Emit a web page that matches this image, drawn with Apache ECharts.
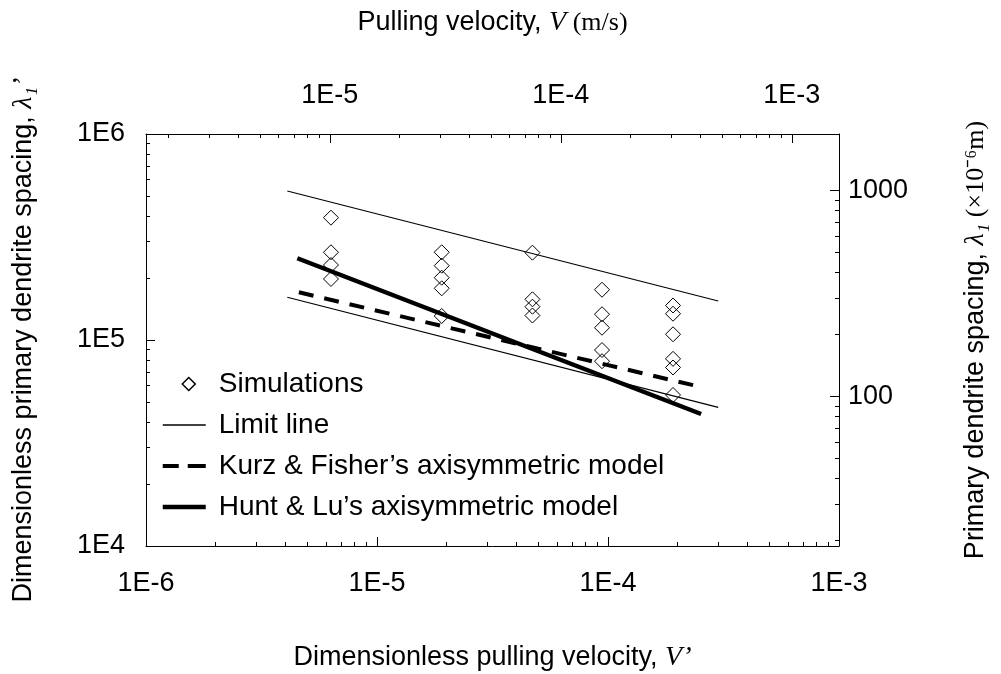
<!DOCTYPE html>
<html>
<head>
<meta charset="utf-8">
<script src="https://cdn.jsdelivr.net/npm/echarts@6/dist/echarts.min.js"></script>
<style>
  html, body { margin: 0; padding: 0; background: #fff; }
  #chart { width: 1001px; height: 674px; }
</style>
</head>
<body>
<div id="chart"></div>
<script>
// Simulated primary dendrite spacing versus dimensionless pulling velocity.
// Each simulation column shares one velocity.
const simVelocity = [6.32e-6, 1.906e-5, 4.71e-5, 9.42e-5, 1.912e-4];
const simSpacing = [
  [392500, 266600, 231300, 197800],
  [266600, 229500, 200700, 178200, 130800],
  [265400, 157600, 145100, 131500],
  [175400, 133400, 114700, 89400, 78900],
  [147100, 134100, 106600, 81000, 73550, 54100]
];

// Upper and lower limit lines
const limitVelocity = [4.09e-6, 3.0e-4];
const limitUpper = [528900, 154600];
const limitLower = [161200, 47130];

// Kurz & Fisher model
const kurzVelocity = [4.59e-6, 2.42e-4];
const kurzSpacing = [170400, 59800];

// Hunt & Lu model
const huntVelocity = [4.52e-6, 2.53e-4];
const huntSpacing = [249300, 43740];

// Dimensional axes: V = V' * velocityFactor (m/s), lambda1 = lambda1' * spacingFactor (um)
const velocityFactor = 1.6;
const spacingFactor = 1.884e-3;

// Axis ranges
const xRange = [1e-6, 1e-3];
const yRange = [1e4, 1e6];

const sans = 'Liberation Sans, Arial, Helvetica, sans-serif';
const serif = 'Liberation Serif, Times New Roman, serif';

function pair(xs, ys) { return xs.map((x, i) => [x, ys[i]]); }

function majorTicks(lo, hi) {
  const out = [];
  for (let d = Math.floor(Math.log10(lo)); d <= Math.ceil(Math.log10(hi)); d++) {
    const v = Math.pow(10, d);
    if (v >= lo * 0.999999 && v <= hi * 1.000001) out.push(Number(v.toPrecision(6)));
  }
  return out;
}
function minorTicks(lo, hi) {
  const out = [];
  for (let d = Math.floor(Math.log10(lo)); d <= Math.ceil(Math.log10(hi)); d++) {
    for (let m = 2; m <= 9; m++) {
      const v = Number((m * Math.pow(10, d)).toPrecision(6));
      if (v > lo && v < hi) out.push(v);
    }
  }
  return out;
}
const expLabel = v => '1E' + Math.round(Math.log10(v));
const plainLabel = v => String(Math.round(v));

const tickText = { fontFamily: sans, fontSize: 27, color: '#000' };
const blackLine = { color: '#000', width: 1 };

function mainAxis(opts) {
  return Object.assign({
    type: 'log', logBase: 10,
    axisLine: { show: true, onZero: false, lineStyle: blackLine },
    axisTick: { show: true, inside: true, length: 9, lineStyle: blackLine, customValues: opts.majors },
    axisLabel: Object.assign({ customValues: opts.majors, formatter: opts.fmt, margin: opts.margin }, tickText),
    splitLine: { show: false },
    minorTick: { show: false }
  }, opts.extra);
}
function minorAxis(position, min, max) {
  return {
    type: 'log', logBase: 10, position, min, max,
    axisLine: { show: false, onZero: false },
    axisTick: { show: true, inside: true, length: 4, lineStyle: blackLine, customValues: minorTicks(min, max) },
    axisLabel: { show: false },
    splitLine: { show: false }
  };
}

const topMin = xRange[0] * velocityFactor, topMax = xRange[1] * velocityFactor;
const rightMin = yRange[0] * spacingFactor, rightMax = yRange[1] * spacingFactor;

const nameRich = {
  t: { fontFamily: sans, fontSize: 27, color: '#000' },
  v: { fontFamily: serif, fontStyle: 'italic', fontSize: 28, color: '#000' },
  u: { fontFamily: serif, fontSize: 26, color: '#000' }
};

const scatterData = [];
simVelocity.forEach((v, i) => simSpacing[i].forEach(s => scatterData.push([v, s])));

// Legend keys: the empty move-to points keep the key box 43 px wide
const iconDiamond = 'path://M0,7M43,7M19.5,7L26,0.5L32.5,7L26,13.5Z';
const iconThin = 'path://M0,0h43v1.5h-43z';
const iconDashed = 'path://M0,0h16v4h-16z M25,0h18v4h-18z';
const iconThick = 'path://M0,0h43v4.5h-43z';

const chart = echarts.init(document.getElementById('chart'), null, { renderer: 'canvas' });
chart.setOption({
  animation: false,
  backgroundColor: '#fff',
  grid: { left: 146, right: 162, top: 134, bottom: 128, containLabel: false, outerBoundsMode: 'none' },
  xAxis: [
    mainAxis({
      majors: majorTicks(xRange[0], xRange[1]), fmt: expLabel, margin: 24,
      extra: {
        position: 'bottom', min: xRange[0], max: xRange[1],
        name: '{t|Dimensionless pulling velocity, }{v|V’}',
        nameLocation: 'middle', nameGap: 98,
        nameTextStyle: { rich: nameRich }
      }
    }),
    minorAxis('bottom', xRange[0], xRange[1]),
    mainAxis({
      majors: majorTicks(topMin, topMax), fmt: expLabel, margin: 25,
      extra: {
        position: 'top', min: topMin, max: topMax,
        name: '{t|Pulling velocity, }{v|V}{u| (m/s)}',
        nameLocation: 'middle', nameGap: 97,
        nameTextStyle: { rich: nameRich }
      }
    }),
    minorAxis('top', topMin, topMax)
  ],
  yAxis: [
    mainAxis({
      majors: majorTicks(yRange[0], yRange[1]), fmt: expLabel, margin: 21,
      extra: {
        position: 'left', min: yRange[0], max: yRange[1],
        name: '{t|Dimensionless primary dendrite spacing, }{v|λ₁’}',
        nameLocation: 'middle', nameGap: 108,
        nameTextStyle: { rich: nameRich }
      }
    }),
    minorAxis('left', yRange[0], yRange[1]),
    mainAxis({
      majors: majorTicks(rightMin, rightMax), fmt: plainLabel, margin: 9,
      extra: {
        position: 'right', min: rightMin, max: rightMax,
        name: '{t|Primary dendrite spacing, }{v|λ₁}{u| (×10⁻⁶m)}',
        nameLocation: 'middle', nameGap: 123,
        nameTextStyle: { rich: nameRich }
      }
    }),
    minorAxis('right', rightMin, rightMax)
  ],
  legend: {
    orient: 'vertical', left: 162, top: 369, padding: 0,
    itemWidth: 43, itemHeight: 14, itemGap: 11,
    symbolKeepAspect: true,
    textStyle: { fontFamily: sans, fontSize: 28, color: '#000', lineHeight: 30, padding: [0, 0, 0, 8] },
    data: [
      { name: 'Simulations', icon: iconDiamond, itemStyle: { color: 'rgba(255,255,255,0)', borderColor: '#000', borderWidth: 1.5 } },
      { name: 'Limit line', icon: iconThin, itemStyle: { color: '#000', borderWidth: 0 } },
      { name: 'Kurz & Fisher’s axisymmetric model', icon: iconDashed, itemStyle: { color: '#000', borderWidth: 0 } },
      { name: 'Hunt & Lu’s axisymmetric model', icon: iconThick, itemStyle: { color: '#000', borderWidth: 0 } }
    ]
  },
  series: [
    {
      name: 'Simulations', type: 'scatter', xAxisIndex: 0, yAxisIndex: 0,
      symbol: 'diamond', symbolSize: [15, 15],
      itemStyle: { color: 'rgba(255,255,255,0)', borderColor: '#000', borderWidth: 1, opacity: 1 },
      data: scatterData, z: 2
    },
    {
      name: 'Limit line', type: 'line', xAxisIndex: 0, yAxisIndex: 0,
      symbol: 'none', showSymbol: false,
      itemStyle: { color: '#000' },
      lineStyle: { color: '#000', width: 1.2 },
      data: pair(limitVelocity, limitUpper), z: 3
    },
    {
      name: 'Limit line', type: 'line', xAxisIndex: 0, yAxisIndex: 0,
      symbol: 'none', showSymbol: false,
      itemStyle: { color: '#000' },
      lineStyle: { color: '#000', width: 1.2 },
      data: pair(limitVelocity, limitLower), z: 3
    },
    {
      name: 'Kurz & Fisher’s axisymmetric model', type: 'line', xAxisIndex: 0, yAxisIndex: 0,
      symbol: 'none', showSymbol: false,
      itemStyle: { color: '#000' },
      lineStyle: { color: '#000', width: 4, type: [15, 11], cap: 'butt' },
      data: pair(kurzVelocity, kurzSpacing), z: 3
    },
    {
      name: 'Hunt & Lu’s axisymmetric model', type: 'line', xAxisIndex: 0, yAxisIndex: 0,
      symbol: 'none', showSymbol: false,
      itemStyle: { color: '#000' },
      lineStyle: { color: '#000', width: 4.5 },
      data: pair(huntVelocity, huntSpacing), z: 3
    }
  ]
});
</script>
</body>
</html>
